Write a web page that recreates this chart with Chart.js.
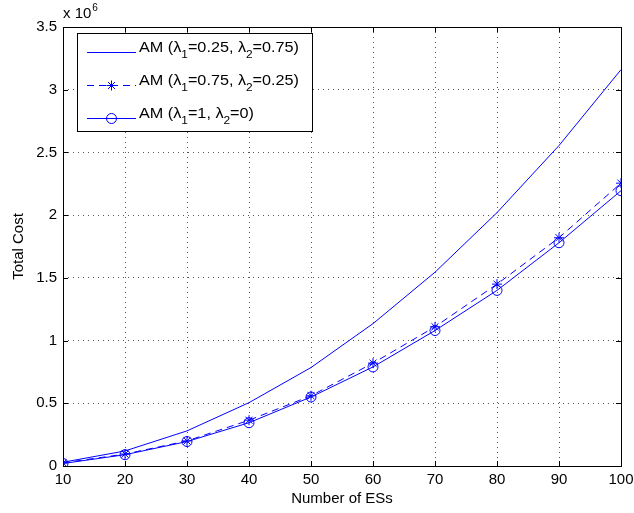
<!DOCTYPE html>
<html>
<head>
<meta charset="utf-8">
<script src="https://cdn.jsdelivr.net/npm/chart.js@4.4.0/dist/chart.umd.min.js"></script>
<style>
html,body{margin:0;padding:0;background:#fff;}
#wrap{width:634px;height:513px;position:relative;}
</style>
</head>
<body>
<div id="wrap"><canvas id="c" width="634" height="513"></canvas></div>
<script>
// Data (Total Cost in units of 10^6)
const esCounts = [10, 20, 30, 40, 50, 60, 70, 80, 90, 100];
const costA = [0.03, 0.12, 0.28, 0.505, 0.785, 1.135, 1.545, 2.02, 2.555, 3.16]; // λ1=0.25, λ2=0.75
const costB = [0.025, 0.095, 0.20, 0.365, 0.56, 0.82, 1.11, 1.45, 1.82, 2.255]; // λ1=0.75, λ2=0.25
const costC = [0.02, 0.09, 0.195, 0.345, 0.55, 0.79, 1.08, 1.40, 1.78, 2.195];  // λ1=1, λ2=0
const yTicks = [0, 0.5, 1, 1.5, 2, 2.5, 3, 3.5];
const xTicks = [10, 20, 30, 40, 50, 60, 70, 80, 90, 100];
const legendLabels = [
  [["AM (", ""], ["λ", ""], ["1", "sub"], ["=0.25, ", ""], ["λ", ""], ["2", "sub"], ["=0.75)", ""]],
  [["AM (", ""], ["λ", ""], ["1", "sub"], ["=0.75, ", ""], ["λ", ""], ["2", "sub"], ["=0.25)", ""]],
  [["AM (", ""], ["λ", ""], ["1", "sub"], ["=1, ", ""], ["λ", ""], ["2", "sub"], ["=0)", ""]]
];
const FONT = '"Liberation Sans", Arial, Helvetica, sans-serif';
const BLUE = '#0000ff';

function drawRich(ctx, parts, x, y) {
  let tx = x;
  parts.forEach(([t, kind]) => {
    if (kind === 'sub') {
      ctx.font = '11px ' + FONT;
      ctx.fillText(t, tx, y + 6);
    } else {
      ctx.font = '15px ' + FONT;
      ctx.fillText(t, tx, y);
    }
    tx += ctx.measureText(t).width;
  });
  return tx - x;
}
function richWidth(ctx, parts) {
  let w = 0;
  parts.forEach(([t, kind]) => {
    ctx.font = (kind === 'sub' ? '11px ' : '15px ') + FONT;
    w += ctx.measureText(t).width;
  });
  return w;
}

const framePlugin = {
  id: 'frame',
  afterDraw(chart) {
    const ctx = chart.ctx, a = chart.chartArea;
    const xs = chart.scales.x, ys = chart.scales.y;
    ctx.save();
    ctx.strokeStyle = '#000';
    ctx.lineWidth = 1;
    ctx.setLineDash([]);
    // box
    ctx.strokeRect(Math.round(a.left) + 0.5, Math.round(a.top) + 0.5, Math.round(a.right - a.left), Math.round(a.bottom - a.top));
    // inward ticks
    ctx.beginPath();
    xTicks.forEach(v => {
      const px = Math.round(xs.getPixelForValue(v)) + 0.5;
      ctx.moveTo(px, a.bottom); ctx.lineTo(px, a.bottom - 5);
      ctx.moveTo(px, a.top); ctx.lineTo(px, a.top + 5);
    });
    yTicks.forEach(v => {
      const py = Math.round(ys.getPixelForValue(v)) + 0.5;
      ctx.moveTo(a.left, py); ctx.lineTo(a.left + 5, py);
      ctx.moveTo(a.right, py); ctx.lineTo(a.right - 5, py);
    });
    ctx.stroke();
    // exponent label
    ctx.fillStyle = '#000';
    ctx.textBaseline = 'alphabetic';
    ctx.textAlign = 'left';
    ctx.font = '15px ' + FONT;
    ctx.fillText('x 10', a.left, 18);
    const w = ctx.measureText('x 10').width;
    ctx.font = '10px ' + FONT;
    ctx.fillText('6', a.left + w + 1, 11);

    // legend
    const lx = 77, ly = 33, lw = 235, lh = 98;
    ctx.fillStyle = '#fff';
    ctx.fillRect(lx, ly, lw, lh);
    ctx.strokeStyle = '#000';
    ctx.strokeRect(lx + 0.5, ly + 0.5, lw, lh);
    const rows = [52, 85, 118];
    const sx = 160 / richWidth(ctx, legendLabels[0]);
    chart.data.datasets.forEach((ds, i) => {
      const y = rows[i] + 0.5;
      ctx.save();
      ctx.strokeStyle = BLUE;
      ctx.lineWidth = 1;
      ctx.setLineDash(ds.borderDash || []);
      ctx.beginPath();
      ctx.moveTo(87, y); ctx.lineTo(136, y);
      ctx.stroke();
      ctx.setLineDash([]);
      if (ds.pointRadius > 0) {
        ctx.fillStyle = ds.pointBackgroundColor;
        Chart.helpers.drawPoint(ctx, {pointStyle: ds.pointStyle, radius: ds.pointRadius, rotation: 0, borderWidth: 1}, 111.5, y);
      }
      ctx.restore();
      // text
      ctx.save();
      ctx.fillStyle = '#000';
      ctx.translate(139, 0);
      ctx.scale(sx, 1);
      drawRich(ctx, legendLabels[i], 0, rows[i]);
      ctx.restore();
    });
    ctx.restore();
  }
};

new Chart(document.getElementById('c'), {
  type: 'line',
  data: {
    labels: esCounts,
    datasets: [
      { label: 'A', data: costA, borderColor: BLUE, borderWidth: 1, pointRadius: 0, fill: false, tension: 0 },
      { label: 'B', data: costB, borderColor: BLUE, borderWidth: 1, borderDash: [7, 5], pointStyle: 'star', pointRadius: 5, pointBorderColor: BLUE, pointBorderWidth: 1, pointBackgroundColor: BLUE, fill: false, tension: 0 },
      { label: 'C', data: costC, borderColor: BLUE, borderWidth: 1, pointStyle: 'circle', pointRadius: 5, pointBorderColor: BLUE, pointBorderWidth: 1, pointBackgroundColor: 'rgba(0,0,0,0)', fill: false, tension: 0 }
    ]
  },
  options: {
    responsive: false,
    animation: false,
    devicePixelRatio: 1,
    layout: { padding: { left: 0, right: 13, top: 27, bottom: 0 } },
    plugins: { legend: { display: false }, tooltip: { enabled: false } },
    elements: { line: { borderCapStyle: 'butt' } },
    scales: {
      x: {
        type: 'linear', min: 10, max: 100,
        afterBuildTicks: s => { s.ticks = xTicks.map(v => ({ value: v })); },
        afterFit: s => { s.height = 47; s.paddingLeft = 0; s.paddingRight = 0; },
        grid: { color: '#555', lineWidth: 1, drawTicks: false },
        border: { display: false, dash: [1, 4] },
        ticks: { color: '#000', font: { family: FONT, size: 15 }, padding: 5, maxRotation: 0, autoSkip: false, callback: v => String(v) },
        title: { display: true, text: 'Number of ESs', color: '#000', font: { family: FONT, size: 15 }, padding: { top: 0, bottom: 5 } }
      },
      y: {
        type: 'linear', min: 0, max: 3.5,
        afterBuildTicks: s => { s.ticks = yTicks.map(v => ({ value: v })); },
        afterFit: s => { s.width = 63; s.paddingTop = 0; s.paddingBottom = 0; },
        grid: { color: '#555', lineWidth: 1, drawTicks: false },
        border: { display: false, dash: [1, 4] },
        ticks: { color: '#000', font: { family: FONT, size: 15 }, padding: 6, autoSkip: false, callback: v => String(v) },
        title: { display: true, text: 'Total Cost', color: '#000', font: { family: FONT, size: 15 }, padding: { top: 10, bottom: 0 } }
      }
    }
  },
  plugins: [framePlugin]
});
</script>
</body>
</html>
